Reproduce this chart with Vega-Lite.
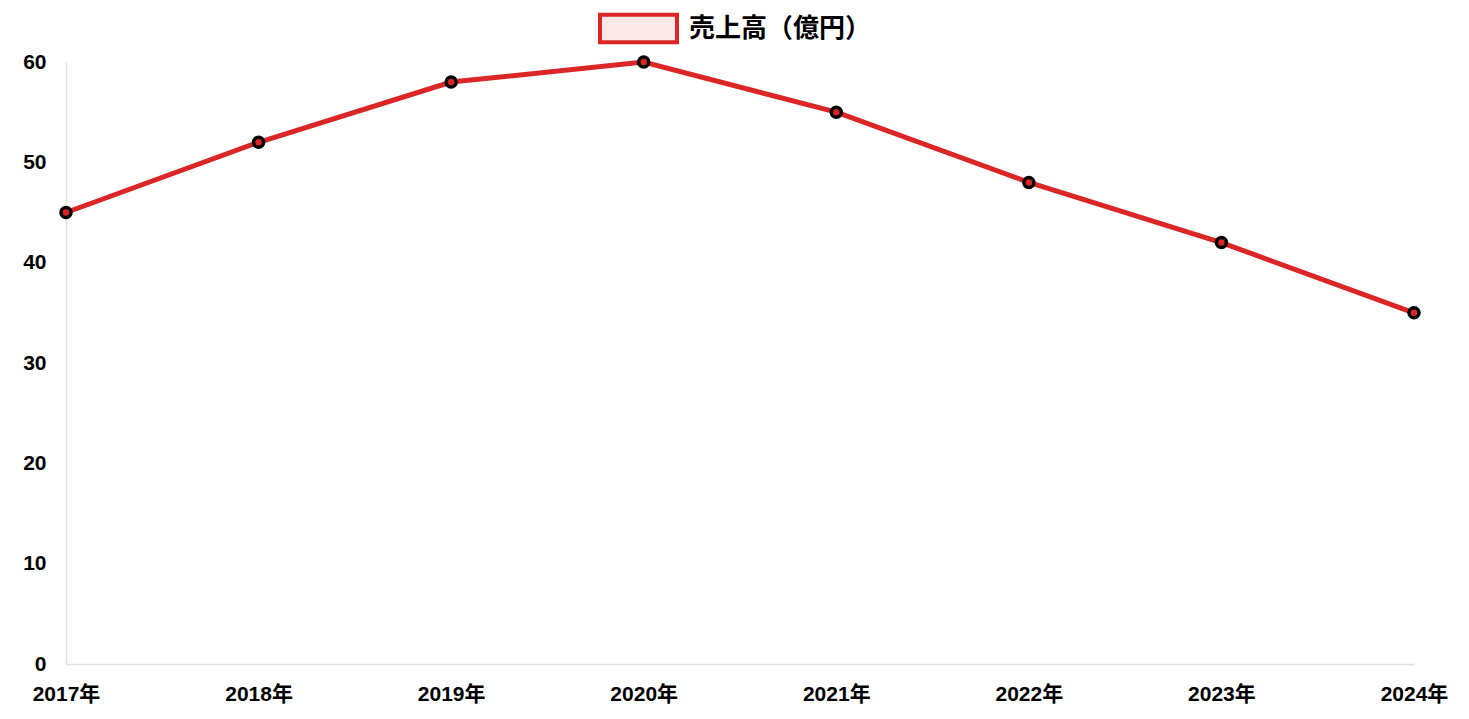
{
  "$schema": "https://vega.github.io/schema/vega-lite/v6.json",
  "description": "売上高の推移 2017-2024",
  "autosize": {"type": "none"},
  "padding": {"left": 66, "top": 62, "right": 55, "bottom": 55},
  "width": 1348,
  "height": 602,
  "background": "white",
  "config": {
    "view": {"stroke": null},
    "font": "Liberation Sans, Noto Sans CJK JP, sans-serif"
  },
  "data": {
    "values": [
      {"year": "2017年", "series": "売上高（億円）", "sales": 45},
      {"year": "2018年", "series": "売上高（億円）", "sales": 52},
      {"year": "2019年", "series": "売上高（億円）", "sales": 58},
      {"year": "2020年", "series": "売上高（億円）", "sales": 60},
      {"year": "2021年", "series": "売上高（億円）", "sales": 55},
      {"year": "2022年", "series": "売上高（億円）", "sales": 48},
      {"year": "2023年", "series": "売上高（億円）", "sales": 42},
      {"year": "2024年", "series": "売上高（億円）", "sales": 35}
    ]
  },
  "encoding": {
    "x": {
      "field": "year",
      "type": "ordinal",
      "sort": null,
      "scale": {"type": "point", "padding": 0},
      "axis": {
        "title": null,
        "labelAngle": 0,
        "ticks": false,
        "grid": false,
        "domainColor": "#e0e0e0",
        "domainWidth": 1.5,
        "labelFont": "Liberation Sans, Noto Sans CJK JP, sans-serif",
        "labelFontSize": 21,
        "labelFontWeight": "bold",
        "labelColor": "#000000",
        "labelPadding": 19,
        "labelOverlap": false
      }
    },
    "y": {
      "field": "sales",
      "type": "quantitative",
      "scale": {"domain": [0, 60], "nice": false},
      "axis": {
        "title": null,
        "values": [0, 10, 20, 30, 40, 50, 60],
        "ticks": false,
        "grid": false,
        "domainColor": "#e0e0e0",
        "domainWidth": 1.5,
        "labelFont": "Liberation Sans, Noto Sans CJK JP, sans-serif",
        "labelFontSize": 21,
        "labelFontWeight": "bold",
        "labelColor": "#000000",
        "labelPadding": 20
      }
    }
  },
  "layer": [
    {
      "mark": {"type": "line", "strokeWidth": 5},
      "encoding": {
        "color": {
          "field": "series",
          "type": "nominal",
          "scale": {"range": ["#dc2626"]},
          "legend": {
            "title": null,
            "orient": "none",
            "legendX": 532,
            "legendY": -74,
            "direction": "horizontal",
            "symbolType": "M-1,-0.36H1V0.36H-1Z",
            "symbolSize": 5929,
            "symbolStrokeWidth": 4,
            "symbolFillColor": "#fbe9e9",
            "labelFont": "Liberation Sans, Noto Sans CJK JP, sans-serif",
            "labelFontSize": 26,
            "labelFontWeight": "bold",
            "labelColor": "#000000",
            "labelOffset": 10,
            "labelLimit": 400,
            "encode": {
              "symbols": {
                "update": {
                  "fill": {"value": "#fbe9e9"},
                  "stroke": {"value": "#dc2626"},
                  "strokeWidth": {"value": 4},
                  "opacity": {"value": 1}
                }
              }
            }
          }
        }
      }
    },
    {
      "mark": {
        "type": "point",
        "filled": true,
        "fill": "#dc2626",
        "stroke": "#000000",
        "strokeWidth": 3.5,
        "size": 100,
        "opacity": 1
      }
    }
  ]
}
